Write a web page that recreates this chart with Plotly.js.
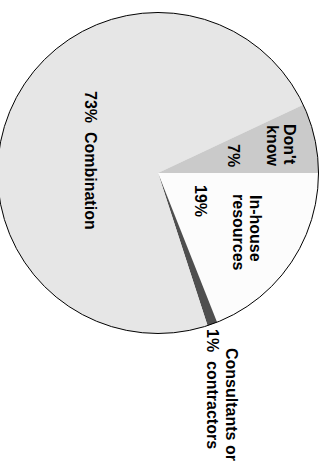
<!DOCTYPE html>
<html>
<head>
<meta charset="utf-8">
<script src="https://cdn.plot.ly/plotly-3.0.1.min.js"></script>
<style>
  html, body { margin: 0; padding: 0; width: 324px; height: 461px; overflow: hidden; background: #fff; }
  #chart { position: absolute; left: 0; top: 0; width: 461px; height: 344px;
           transform-origin: 0 0; transform: translate(324px, 0) rotate(90deg); }
</style>
</head>
<body>
<div id="chart"></div>
<script>
// Data (slices listed clockwise from 12 o'clock in the unrotated chart)
const categories = ["In-house resources", "Consultants or contractors", "Combination", "Don't know"];
const values = [19, 1, 73, 7];
const labelLines = [["In-house", "resources"], ["Consultants or", "contractors"], ["Combination"], ["Don't", "know"]];
const colors = ["#fcfcfc", "#4f4f4f", "#e6e6e6", "#cacaca"];

const W = 461, H = 344;
const font = { family: "Liberation Sans, Arial, sans-serif", size: 16, color: "#000", weight: "bold" };
const pct = values.map(v => v + "%");
const NB = "\u00a0\u00a0";

// label placements (pixel positions in the unrotated frame), text comes from data arrays
const ann = [];
function put(text, u, v, xa) {
  ann.push({ text: text, x: u / W, y: 1 - v / H, xref: "paper", yref: "paper",
             xanchor: xa, yanchor: "middle", showarrow: false, font: font });
}
// Don't know
put(labelLines[3][0], 122, 34.5, "left");
put(labelLines[3][1], 123, 51.5, "left");
put(pct[3], 155.5, 90.5, "center");
// In-house
put(labelLines[0][0], 193, 68.5, "left");
put(labelLines[0][1], 192, 85.5, "left");
put(pct[0], 201, 123.5, "center");
// Combination
put(pct[2] + NB + labelLines[2][0], 160.5, 233.5, "center");
// Consultants or contractors
put(labelLines[1][0], 404, 92.5, "center");
put(pct[1] + NB + labelLines[1][1], 388.5, 111.5, "center");

const dom = { x: [12.5 / W, 333.5 / W], y: [1 - 326.5 / H, 1 - 5.5 / H] };

const slices = {
  type: "pie", values: values, labels: categories, sort: false, direction: "clockwise", rotation: 0,
  marker: { colors: colors, line: { width: 0 } },
  textinfo: "none", hoverinfo: "label+percent", showlegend: false, domain: dom
};
const outline = {
  type: "pie", values: [100], labels: ["outline"], sort: false,
  marker: { colors: ["rgba(0,0,0,0)"], line: { color: "#000", width: 1 } },
  textinfo: "none", hoverinfo: "skip", showlegend: false, domain: dom
};

Plotly.newPlot("chart", [slices, outline], {
  width: W, height: H, margin: { l: 0, r: 0, t: 0, b: 0 },
  paper_bgcolor: "#fff", plot_bgcolor: "#fff", showlegend: false,
  annotations: ann
}, { staticPlot: true, displayModeBar: false });
</script>
</body>
</html>
